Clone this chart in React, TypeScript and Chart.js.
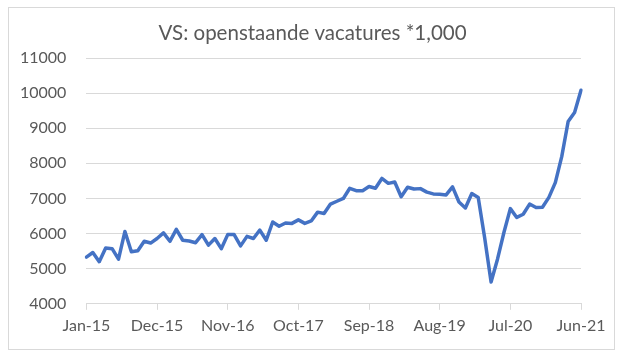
import React, { useEffect, useRef } from "react";
import { Chart, registerables } from "chart.js";

Chart.register(...registerables);

const monthNames = ["Jan", "Feb", "Mar", "Apr", "May", "Jun", "Jul", "Aug", "Sep", "Oct", "Nov", "Dec"];
const years = ["15", "16", "17", "18", "19", "20", "21"];
const categories: string[] = [];
years.forEach((y) => monthNames.forEach((m) => categories.push(`${m}-${y}`)));
categories.splice(78);

const openings = [
  5330, 5460, 5200, 5590, 5570, 5270, 6060, 5480, 5510, 5780, 5730, 5860,
  6020, 5780, 6120, 5810, 5790, 5740, 5970, 5670, 5860, 5570, 5970, 5970,
  5650, 5920, 5860, 6100, 5810, 6330, 6210, 6300, 6290, 6390, 6290, 6360,
  6610, 6570, 6840, 6920, 7000, 7290, 7220, 7220, 7340, 7290, 7570, 7430,
  7470, 7050, 7320, 7270, 7280, 7180, 7130, 7120, 7100, 7330, 6900, 6730,
  7140, 7030, 5880, 4620, 5270, 6030, 6710, 6460, 6550, 6840, 6740, 6750,
  7030, 7450, 8190, 9190, 9450, 10080,
];

const yTicks = [4000, 5000, 6000, 7000, 8000, 9000, 10000, 11000];
const labelEvery = 11;
const title = "VS: openstaande vacatures *1,000";
const font = "Lato, 'Open Sans', sans-serif";

const titlePlugin = {
  id: "centeredTitle",
  afterDraw(chart: any) {
    const ctx = chart.ctx;
    ctx.save();
    ctx.font = `normal 20.5px ${font}`;
    ctx.fillStyle = "#595959";
    ctx.textAlign = "center";
    ctx.textBaseline = "middle";
    ctx.fillText(title, chart.width / 2, 33);
    ctx.restore();
  },
};

export default function App() {
  const ref = useRef<HTMLCanvasElement | null>(null);
  useEffect(() => {
    if (!ref.current) return;
    const chart = new Chart(ref.current, {
      type: "line",
      data: {
        labels: categories,
        datasets: [
          {
            data: openings,
            borderColor: "#4472C4",
            borderWidth: 3.5,
            pointRadius: 0,
            tension: 0,
            borderJoinStyle: "round",
            borderCapStyle: "round",
            fill: false,
          },
        ],
      },
      plugins: [titlePlugin],
      options: {
        animation: false,
        responsive: false,
        layout: { padding: { left: 0, right: 44, top: 58, bottom: 21 } },
        plugins: {
          legend: { display: false },
          tooltip: { enabled: false },
          title: { display: false },
        },
        scales: {
          x: {
            type: "category",
            offset: false,
            afterBuildTicks: (scale: any) => {
              scale.ticks = scale.ticks.filter((t: any) => t.value % labelEvery === 0);
            },
            grid: {
              display: true,
              drawOnChartArea: false,
              drawTicks: true,
              tickLength: 6,
              color: "#d9d9d9",
            },
            border: { display: true, color: "#d9d9d9" },
            ticks: {
              autoSkip: false,
              maxRotation: 0,
              color: "#595959",
              padding: 6,
              font: { family: font, size: 16 },
            },
          },
          y: {
            min: 4000,
            max: 11000,
            afterBuildTicks: (scale: any) => {
              scale.ticks = yTicks.map((v) => ({ value: v }));
            },
            grid: { color: "#d9d9d9", drawTicks: false },
            border: { display: false },
            ticks: {
              color: "#595959",
              padding: 20,
              font: { family: font, size: 16 },
              callback: (v: any) => String(v),
            },
          },
        },
      },
    });
    return () => chart.destroy();
  }, []);

  return (
    <div style={{ position: "fixed", left: 0, top: 0, width: 625, height: 362, background: "#fff" }}>
      <canvas ref={ref} width={625} height={362} style={{ position: "absolute", left: 0, top: 0 }} />
      <div
        style={{
          position: "absolute",
          left: 8,
          top: 7,
          width: 605,
          height: 341,
          border: "1px solid #d9d9d9",
          pointerEvents: "none",
        }}
      />
    </div>
  );
}
